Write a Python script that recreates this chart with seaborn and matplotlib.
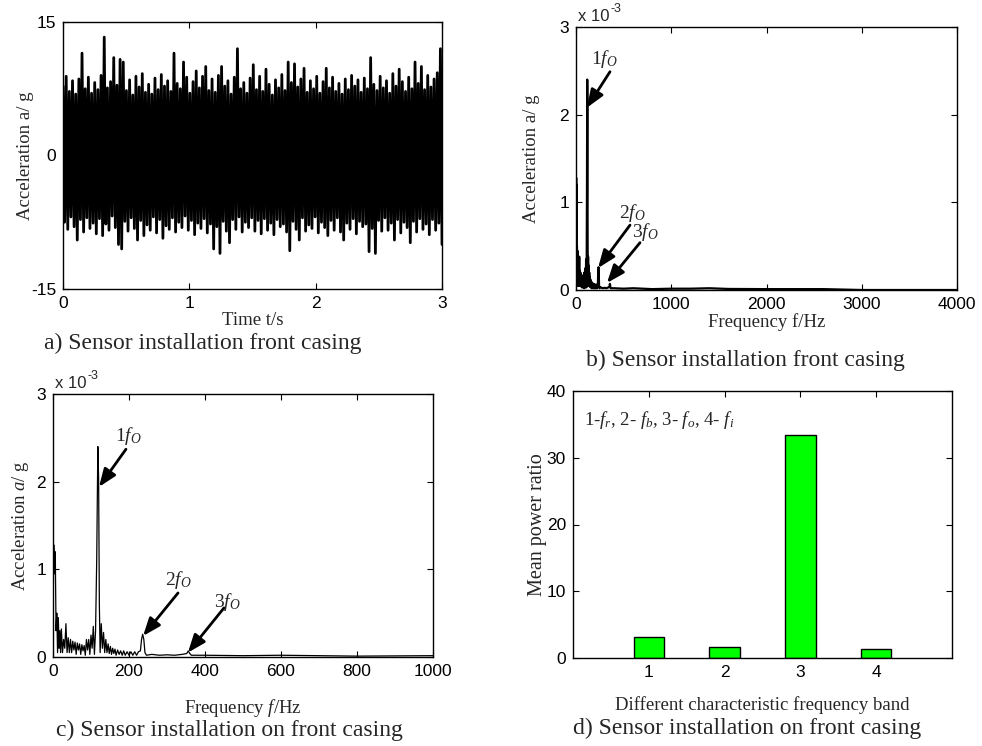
import numpy as np
import pandas as pd
import matplotlib
matplotlib.use("Agg")
import matplotlib.pyplot as plt
import seaborn as sns

# a) time signal: upper / lower peaks (g), 120 samples over 3 s
upper_peaks = [7.8, 8.9, 7.2, 8.4, 6.9, 8.6, 11.5, 7.5, 8.8, 7.0,
               8.2, 7.4, 9.0, 13.3, 7.6, 8.3, 11.0, 7.9, 10.8, 10.5,
               7.3, 8.5, 6.8, 8.9, 7.7, 9.2, 7.1, 8.0, 6.9, 8.7,
               7.4, 9.1, 7.8, 8.4, 7.2, 11.5, 8.1, 7.5, 10.5, 8.8,
               7.0, 8.3, 9.5, 7.6, 8.9, 10.0, 7.3, 8.6, 7.1, 9.0,
               10.0, 7.8, 8.4, 6.9, 8.8, 12.0, 7.5, 8.2, 7.0, 8.7,
               10.2, 7.4, 8.9, 7.2, 9.7, 8.0, 6.8, 8.5, 7.6, 9.1,
               7.3, 10.5, 8.2, 10.3, 7.7, 8.6, 9.8, 7.1, 8.4, 7.5,
               8.9, 7.0, 8.3, 9.8, 7.6, 8.8, 7.2, 8.1, 6.9, 8.6,
               7.4, 9.0, 7.8, 8.5, 7.1, 8.7, 7.5, 11.0, 8.0, 7.3,
               8.9, 7.6, 8.4, 7.0, 9.2, 7.8, 9.7, 8.3, 7.2, 8.8,
               7.5, 10.5, 8.1, 10.0, 7.4, 9.0, 7.7, 8.6, 9.3, 12.0]
lower_peaks = [-7.5, -8.3, -6.9, -8.0, -9.5, -7.2, -8.6, -7.0, -8.2, -7.6,
               -8.8, -7.1, -9.0, -7.7, -8.4, -6.8, -8.1, -10.0, -10.5, -7.4,
               -8.5, -7.0, -8.2, -9.5, -7.3, -9.0, -7.8, -8.4, -6.9, -8.7,
               -7.2, -9.3, -7.9, -8.3, -7.0, -8.6, -7.5, -8.1, -6.8, -8.4,
               -7.3, -8.9, -7.6, -8.2, -7.1, -8.7, -7.7, -10.5, -8.0, -11.0,
               -7.4, -8.5, -9.8, -7.2, -8.3, -6.9, -8.6, -7.5, -8.1, -7.0,
               -8.5, -7.3, -8.8, -7.1, -8.4, -7.6, -8.9, -7.2, -8.0, -7.7,
               -8.6, -10.7, -7.4, -8.3, -9.5, -7.0, -8.5, -7.8, -8.2, -6.9,
               -8.7, -7.5, -8.1, -9.0, -7.3, -8.4, -7.0, -8.6, -9.5, -7.6,
               -8.3, -7.1, -8.8, -7.4, -8.0, -7.7, -10.8, -8.2, -11.0, -7.3,
               -8.5, -7.0, -8.4, -7.6, -9.5, -7.2, -8.7, -7.5, -8.1, -9.8,
               -7.4, -8.6, -7.1, -8.3, -7.7, -8.9, -7.2, -8.4, -7.6, -10.0]
core_level = 5.0  # the signal is solid black up to about +/-5 g

# b), c) amplitude spectrum, amplitude in units of 1e-3 g
spec_freq = [0, 2, 4, 6, 8, 10, 12, 14, 16, 18, 20, 22, 25, 28, 31, 34, 37, 40, 43, 46,
             49, 52, 55, 58, 61, 64, 67, 70, 73, 76, 79, 82, 85, 88, 91, 94, 97, 100, 103, 106,
             109, 112, 115, 118, 120, 122, 124, 127, 130, 133, 136, 139, 142, 145, 148, 151, 154, 157, 160, 163,
             166, 170, 174, 178, 182, 186, 190, 195, 200, 205, 210, 215, 220, 225, 230, 233, 236, 239, 242, 246,
             260, 280, 300, 320, 340, 352, 356, 360, 364, 400, 500, 600, 800, 1000, 1200, 1400, 1600, 2000, 2600, 3000, 4000]
spec_amp = [0.3, 1.28, 0.95, 1.2, 0.3, 0.5, 0.05, 0.45, 0.1, 0.3, 0.05, 0.32, 0.05, 0.2, 0.1, 0.38, 0.05, 0.22, 0.05, 0.2,
            0.05, 0.18, 0.08, 0.17, 0.03, 0.16, 0.08, 0.15, 0.03, 0.14, 0.07, 0.13, 0.02, 0.2, 0.08, 0.2, 0.03, 0.25, 0.1, 0.35,
            0.03, 0.3, 1.1, 2.4, 2.05, 0.6, 0.05, 0.38, 0.1, 0.28, 0.05, 0.2, 0.05, 0.15, 0.04, 0.12, 0.03, 0.1, 0.04, 0.09,
            0.02, 0.08, 0.03, 0.07, 0.02, 0.07, 0.02, 0.06, 0.02, 0.06, 0.02, 0.06, 0.02, 0.06, 0.07, 0.2, 0.26, 0.2, 0.05, 0.02,
            0.03, 0.02, 0.025, 0.02, 0.03, 0.04, 0.07, 0.04, 0.02, 0.02, 0.015, 0.02, 0.01, 0.015, 0.015, 0.02, 0.012, 0.01, 0.01, 0.0, 0.0]

# d) mean power ratio per band
bands = [1, 2, 3, 4]
power_ratio = [3.1, 1.6, 33.4, 1.3]

sns.set_theme(style="ticks")
plt.rcParams["font.family"] = ["Liberation Sans", "DejaVu Sans"]
plt.rcParams["mathtext.fontset"] = "custom"
plt.rcParams["mathtext.rm"] = "Liberation Serif"
plt.rcParams["mathtext.it"] = "Liberation Serif:italic"
plt.rcParams["axes.unicode_minus"] = False

SERIF = "Liberation Serif"
LAB = 13.5
CAP = 17
W, H = 982, 746
fig = plt.figure(figsize=(W / 100, H / 100), dpi=100)


def px_axes(x0, y0, x1, y1):
    return fig.add_axes([x0 / W, 1 - y1 / H, (x1 - x0) / W, (y1 - y0) / H])


def style(ax):
    ax.tick_params(direction="in", top=True, right=True, length=4, width=0.8,
                   labelsize=12.5, colors="black", pad=5)
    for s in ax.spines.values():
        s.set_visible(True)
        s.set_color("black")
        s.set_linewidth(1.0)


def arrow(ax, text, xy, xytext, label_xy):
    ax.annotate("", xy=xy, xytext=xytext,
                arrowprops=dict(arrowstyle="-|>,head_length=0.9,head_width=0.35",
                                color="black", lw=2, shrinkA=0, shrinkB=0))
    ax.text(*label_xy, text, fontsize=14, family=SERIF, ha="center", va="center")


def exponent(ax):
    ax.text(0.005, 1.01, "x 10", transform=ax.transAxes, fontsize=12, va="bottom")
    ax.text(0.09, 1.045, "-3", transform=ax.transAxes, fontsize=9, va="bottom")


# ---- a) time signal
ax = px_axes(63, 22, 442, 289)
t = np.linspace(0, 3, 2 * len(upper_peaks))
sig = np.empty(2 * len(upper_peaks))
sig[0::2] = upper_peaks
sig[1::2] = lower_peaks
ax.fill_between([0, 3], -core_level, core_level, color="black", lw=0)
sns.lineplot(x=t, y=sig, ax=ax, color="black", lw=2.0, sort=False, estimator=None)
ax.set_xlim(0, 3)
ax.set_ylim(-15, 15)
ax.set_xticks([0, 1, 2, 3])
ax.set_yticks([-15, 0, 15])
style(ax)
ax.set_xlabel("Time t/s", family=SERIF, fontsize=LAB, labelpad=1)
ax.set_ylabel("Acceleration a/ g", family=SERIF, fontsize=LAB, labelpad=-2)
fig.text(203 / W, 1 - 343 / H, "a) Sensor installation front casing", family=SERIF,
         fontsize=CAP, ha="center", va="center")

spec = pd.DataFrame({"freq": spec_freq, "amp": spec_amp})

# ---- b) full spectrum
ax = px_axes(576, 27, 957, 290)
sns.lineplot(data=spec, x="freq", y="amp", ax=ax, color="black", lw=1.6, sort=False, estimator=None)
ax.set_xlim(0, 4000)
ax.set_ylim(0, 3)
ax.set_xticks([0, 1000, 2000, 3000, 4000])
ax.set_yticks([0, 1, 2, 3])
style(ax)
ax.set_xlabel("Frequency f/Hz", family=SERIF, fontsize=LAB, labelpad=1)
ax.set_ylabel("Acceleration a/ g", family=SERIF, fontsize=LAB, labelpad=14)
exponent(ax)
arrow(ax, "1$f_O$", (115, 2.08), (357, 2.49), (300, 2.64))
arrow(ax, "2$f_O$", (231, 0.25), (567, 0.74), (590, 0.88))
arrow(ax, "3$f_O$", (325, 0.08), (672, 0.54), (730, 0.66))
fig.text(745 / W, 1 - 360 / H, "b) Sensor installation front casing", family=SERIF,
         fontsize=CAP, ha="center", va="center")

# ---- c) zoomed spectrum
ax = px_axes(53, 394, 433, 657)
sns.lineplot(data=spec, x="freq", y="amp", ax=ax, color="black", lw=0.9, sort=False, estimator=None)
ax.set_xlim(0, 1000)
ax.set_ylim(0, 3)
ax.set_xticks([0, 200, 400, 600, 800, 1000])
ax.set_yticks([0, 1, 2, 3])
style(ax)
ax.set_xlabel("Frequency $f$/Hz", family=SERIF, fontsize=LAB, labelpad=13)
ax.set_ylabel("Acceleration $a$/ g", family=SERIF, fontsize=LAB, labelpad=4)
exponent(ax)
arrow(ax, "1$f_O$", (121, 1.94), (192, 2.37), (197, 2.52))
arrow(ax, "2$f_O$", (237, 0.24), (329, 0.73), (329, 0.88))
arrow(ax, "3$f_O$", (355, 0.05), (450, 0.56), (458, 0.63))
fig.text(229 / W, 1 - 730 / H, "c) Sensor installation on front casing", family=SERIF,
         fontsize=CAP, ha="center", va="center")

# ---- d) mean power ratio
ax = px_axes(573, 391, 952, 658)
sns.barplot(x=bands, y=power_ratio, ax=ax, native_scale=True, width=0.4,
            color="#00FF00", saturation=1, edgecolor="black", linewidth=1)
ax.set_xlim(0, 5)
ax.set_ylim(0, 40)
ax.set_xticks(bands)
ax.set_yticks([0, 10, 20, 30, 40])
style(ax)
ax.set_xlabel("Different characteristic frequency band", family=SERIF, fontsize=LAB, labelpad=12)
ax.set_ylabel("Mean power ratio", family=SERIF, fontsize=14.5, labelpad=0)
ax.text(0.03, 0.89, "1-$f_r$, 2- $f_b$, 3- $f_o$, 4- $f_i$", transform=ax.transAxes,
        family=SERIF, fontsize=13.5, va="center")
fig.text(747 / W, 1 - 728 / H, "d) Sensor installation on front casing", family=SERIF,
         fontsize=CAP, ha="center", va="center")

fig.savefig("out.png", dpi=100)
